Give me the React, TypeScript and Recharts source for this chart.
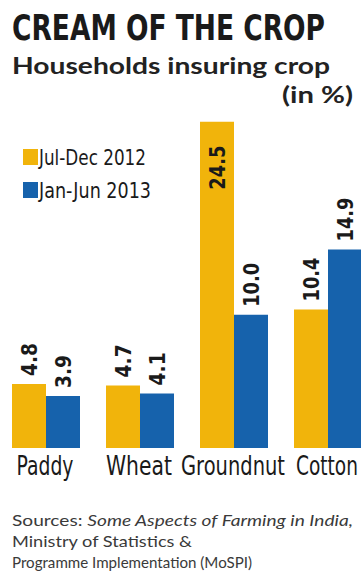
import React from "react";
import { BarChart, Bar, XAxis, YAxis, Legend, LabelList } from "recharts";

const crops = ["Paddy", "Wheat", "Groundnut", "Cotton"];
const julDec2012 = [4.8, 4.7, 24.5, 10.4];
const janJun2013 = [3.9, 4.1, 10.0, 14.9];
const seriesNames = ["Jul-Dec 2012", "Jan-Jun 2013"];

const YELLOW = "#F1B40B";
const BLUE = "#1662AC";
const NARROW = "'DejaVu Sans', sans-serif";
const HUMANIST = "Lato, 'Open Sans', sans-serif";

// no condensed face is installed, so narrow text is squeezed to the widths in the picture
const tickWidths: Record<string, number> = { Paddy: 57, Wheat: 66, Groundnut: 104, Cotton: 62 };
const legendWidths = [107, 112];

const data = crops.map((crop, i) => ({
    crop,
    h2012: julDec2012[i],
    h2013: janJun2013[i],
}));

const ValueLabel = (props: any) => {
    const { x, y, width, value } = props;
    const cx = x + width / 2;
    const txt = Number(value).toFixed(1);
    // the tall groundnut bar carries its number inside
    const inside = value > 20;
    const ty = inside ? y + 68 : y - 8;
    return (
        <text
            transform={`translate(${cx + 8}, ${ty}) rotate(-90)`}
            textAnchor="start"
            fontFamily={NARROW}
            fontSize={22}
            fontWeight="bold"
            fill="#1a1a1a"
            textLength={txt.length * 11}
            lengthAdjust="spacingAndGlyphs"
        >
            {txt}
        </text>
    );
};

const CropTick = (props: any) => {
    const { x, y, payload } = props;
    const w = tickWidths[payload.value] || 60;
    return (
        <text
            x={x - w / 2 - 1}
            y={y}
            dy={27}
            fontFamily={NARROW}
            fontSize={26}
            fill="#1a1a1a"
            textLength={w}
            lengthAdjust="spacingAndGlyphs"
        >
            {payload.value}
        </text>
    );
};

const LegendBox = (props: any) => {
    const items = [...(props.payload || [])].sort(
        (a: any, b: any) => seriesNames.indexOf(a.value) - seriesNames.indexOf(b.value)
    );
    return (
        <svg width={160} height={56}>
            {items.map((item: any, i: number) => (
                <g key={item.value} transform={`translate(0, ${i * 33})`}>
                    <rect x={0} y={0} width={15} height={16} fill={item.color} />
                    <text
                        x={16}
                        y={16}
                        fontFamily={NARROW}
                        fontSize={22}
                        fill="#1a1a1a"
                        textLength={legendWidths[i]}
                        lengthAdjust="spacingAndGlyphs"
                    >
                        {item.value}
                    </text>
                </g>
            ))}
        </svg>
    );
};

export default function App() {
    return (
        <div
            style={{
                position: "fixed",
                left: 0,
                top: 0,
                width: 361,
                height: 578,
                overflow: "hidden",
                background: "#fff",
            }}
        >
            <div style={{ position: "absolute", left: -1, top: 0 }}>
                <BarChart
                    width={376}
                    height={498}
                    data={data}
                    margin={{ top: 115, right: 0, left: 0, bottom: 0 }}
                    barCategoryGap={13}
                    barGap={0}
                >
                    <XAxis
                        dataKey="crop"
                        axisLine={false}
                        tickLine={false}
                        tickSize={0}
                        tickMargin={0}
                        height={50}
                        interval={0}
                        tick={<CropTick />}
                    />
                    <YAxis hide domain={[0, 25]} />
                    <Legend
                        layout="vertical"
                        align="center"
                        verticalAlign="middle"
                        content={<LegendBox />}
                        wrapperStyle={{ position: "absolute", left: 24, top: 149, width: 160 }}
                    />
                    <Bar dataKey="h2012" name={seriesNames[0]} fill={YELLOW} isAnimationActive={false}>
                        <LabelList dataKey="h2012" content={<ValueLabel />} />
                    </Bar>
                    <Bar dataKey="h2013" name={seriesNames[1]} fill={BLUE} isAnimationActive={false}>
                        <LabelList dataKey="h2013" content={<ValueLabel />} />
                    </Bar>
                </BarChart>
            </div>
            <svg width={361} height={578} style={{ position: "absolute", left: 0, top: 0, pointerEvents: "none" }}>
                <text
                    x={12}
                    y={40}
                    fontFamily={NARROW}
                    fontWeight="bold"
                    fontSize={35}
                    fill="#1a1a1a"
                    textLength={313}
                    lengthAdjust="spacingAndGlyphs"
                >
                    CREAM OF THE CROP
                </text>
                <text
                    x={12}
                    y={74}
                    fontFamily={HUMANIST}
                    fontWeight="bold"
                    fontSize={22}
                    fill="#222"
                    textLength={318}
                    lengthAdjust="spacingAndGlyphs"
                >
                    Households insuring crop
                </text>
                <text
                    x={282}
                    y={103}
                    fontFamily={HUMANIST}
                    fontWeight="bold"
                    fontSize={22}
                    fill="#222"
                    textLength={71}
                    lengthAdjust="spacingAndGlyphs"
                >
                    (in %)
                </text>
                <g fontFamily={HUMANIST} fontSize={16} fill="#3a3a3a">
                    <text x={12} y={526} textLength={341} lengthAdjust="spacingAndGlyphs">
                        Sources: <tspan fontStyle="italic">Some Aspects of Farming in India,</tspan>
                    </text>
                    <text x={12} y={547} textLength={180} lengthAdjust="spacingAndGlyphs">
                        Ministry of Statistics &amp;
                    </text>
                    <text x={12} y={568} textLength={240} lengthAdjust="spacingAndGlyphs">
                        Programme Implementation (MoSPI)
                    </text>
                </g>
            </svg>
        </div>
    );
}
